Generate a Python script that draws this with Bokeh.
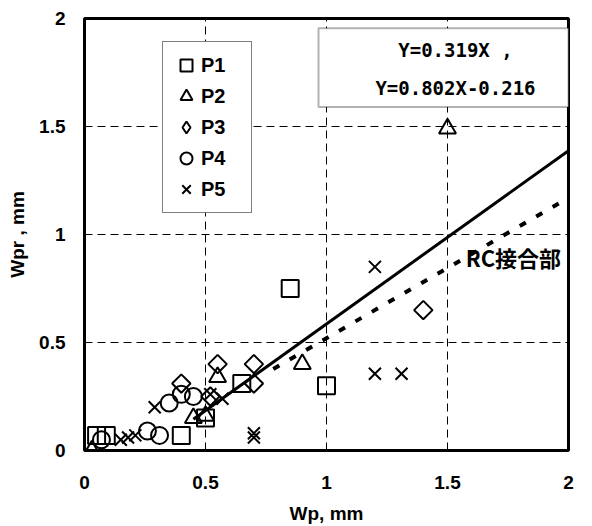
import math
from bokeh.plotting import figure
from bokeh.models import Legend, LegendItem, Label, BoxAnnotation, FixedTicker
from bokeh.embed import file_html
from bokeh.resources import INLINE

# ---- data ----
p1_x = [0.05, 0.09, 0.40, 0.50, 0.65, 0.85, 1.00]
p1_y = [0.07, 0.07, 0.07, 0.15, 0.31, 0.75, 0.30]

p2_x = [0.03, 0.45, 0.50, 0.55, 0.90, 1.50]
p2_y = [0.00, 0.15, 0.16, 0.34, 0.40, 1.49]

p3_x = [0.40, 0.52, 0.55, 0.70, 0.70, 1.40]
p3_y = [0.31, 0.25, 0.40, 0.40, 0.31, 0.65]

p4_x = [0.07, 0.26, 0.31, 0.35, 0.40, 0.45]
p4_y = [0.05, 0.09, 0.07, 0.22, 0.26, 0.25]

p5_x = [0.15, 0.18, 0.21, 0.29, 0.52, 0.57, 0.70, 0.70, 1.20, 1.20, 1.31]
p5_y = [0.05, 0.06, 0.07, 0.20, 0.26, 0.24, 0.06, 0.08, 0.85, 0.355, 0.355]

series_names = ["P1", "P2", "P3", "P4", "P5"]

fit_slope, fit_intercept = 0.802, -0.216
fit_x = [0.45, 2.0]
rc_slope, rc_intercept = 0.65, -0.13
rc_x = [0.78, 2.0]

ticks = [0, 0.5, 1, 1.5, 2]
tick_labels = ["0", "0.5", "1", "1.5", "2"]

eq_line1 = "Y=0.319X ,"
eq_line2 = "Y=0.802X-0.216"
rc_label = "RC接合部"

# ---- figure ----
p = figure(width=592, height=526, x_range=(0, 2), y_range=(0, 2),
           output_backend="svg", toolbar_location=None,
           min_border_left=84, min_border_right=24,
           min_border_top=18, min_border_bottom=74)

p.outline_line_color = "black"
p.outline_line_width = 3

for ax in (p.xaxis[0], p.yaxis[0]):
    ax.ticker = FixedTicker(ticks=ticks)
    ax.major_label_overrides = {t: l for t, l in zip(ticks, tick_labels)}
    ax.major_tick_line_color = None
    ax.minor_tick_line_color = None
    ax.major_tick_out = 0
    ax.major_tick_in = 0
    ax.axis_line_color = None
    ax.major_label_text_font = "Liberation Sans"
    ax.major_label_text_font_style = "bold"
    ax.major_label_text_font_size = "19px"
    ax.major_label_text_color = "black"
    ax.axis_label_text_font = "Liberation Sans"
    ax.axis_label_text_font_style = "bold"
    ax.axis_label_text_font_size = "19px"
    ax.axis_label_text_color = "black"

p.xaxis.axis_label = "Wp, mm"
p.yaxis.axis_label = "Wpr , mm"
p.xaxis.major_label_standoff = 25
p.xaxis.axis_label_standoff = 11
p.yaxis.major_label_standoff = 19
p.yaxis.axis_label_standoff = 8

for g in (p.xgrid[0], p.ygrid[0]):
    g.ticker = FixedTicker(ticks=ticks)
    g.grid_line_color = "black"
    g.grid_line_width = 1
    g.grid_line_dash = "8 5"

# fit lines
p.line(fit_x, [fit_slope * x + fit_intercept for x in fit_x],
       line_color="black", line_width=3)
p.line(rc_x, [rc_slope * x + rc_intercept for x in rc_x],
       line_color="black", line_width=4, line_dash="7 12")

mk = dict(size=17, line_color="black", line_width=2, fill_color=None)
r1 = p.scatter(p1_x, p1_y, marker="square", **mk)
r2 = p.scatter(p2_x, p2_y, marker="triangle", **mk)
r3 = p.scatter(p3_x, p3_y, marker="square", angle=math.pi / 4, **dict(mk, size=13))
r4 = p.scatter(p4_x, p4_y, marker="circle", **mk)
r5 = p.scatter(p5_x, p5_y, marker="x", **mk)
# legend-only glyph for P3 (legend ignores marker rotation); zero size on the plot
r3_leg = p.scatter(p3_x, p3_y, marker="diamond", **dict(mk, size=0))

legend = Legend(
    items=[LegendItem(label=n, renderers=[r]) for n, r in zip(series_names, [r1, r2, r3_leg, r4, r5])],
    location=(78, 237),
    glyph_width=30, glyph_height=30, spacing=1, label_standoff=0,
    padding=8, margin=0, label_width=42,
    label_text_font="Liberation Sans", label_text_font_style="bold",
    label_text_font_size="20px", label_text_color="black",
    border_line_color="black", border_line_width=1.5,
    background_fill_color="white", background_fill_alpha=1,
)
p.add_layout(legend)

# equation box
box = BoxAnnotation(left=0.967, right=2.0, top=1.955, bottom=1.59,
                    fill_color="white", fill_alpha=1,
                    line_color="black", line_width=2)
p.add_layout(box)
for txt, yy in ((eq_line1, 1.853), (eq_line2, 1.678)):
    p.add_layout(Label(x=1.533, y=yy, text=txt, text_align="center",
                       text_baseline="middle", text_font="DejaVu Sans Mono",
                       text_font_style="bold", text_font_size="19px",
                       text_color="black"))

p.add_layout(Label(x=1.575, y=0.894, text=rc_label, text_align="left",
                   text_baseline="middle", text_font="Noto Sans CJK JP",
                   text_font_style="bold", text_font_size="22px",
                   text_color="black"))

open("out.html", "w").write(file_html(p, INLINE))
